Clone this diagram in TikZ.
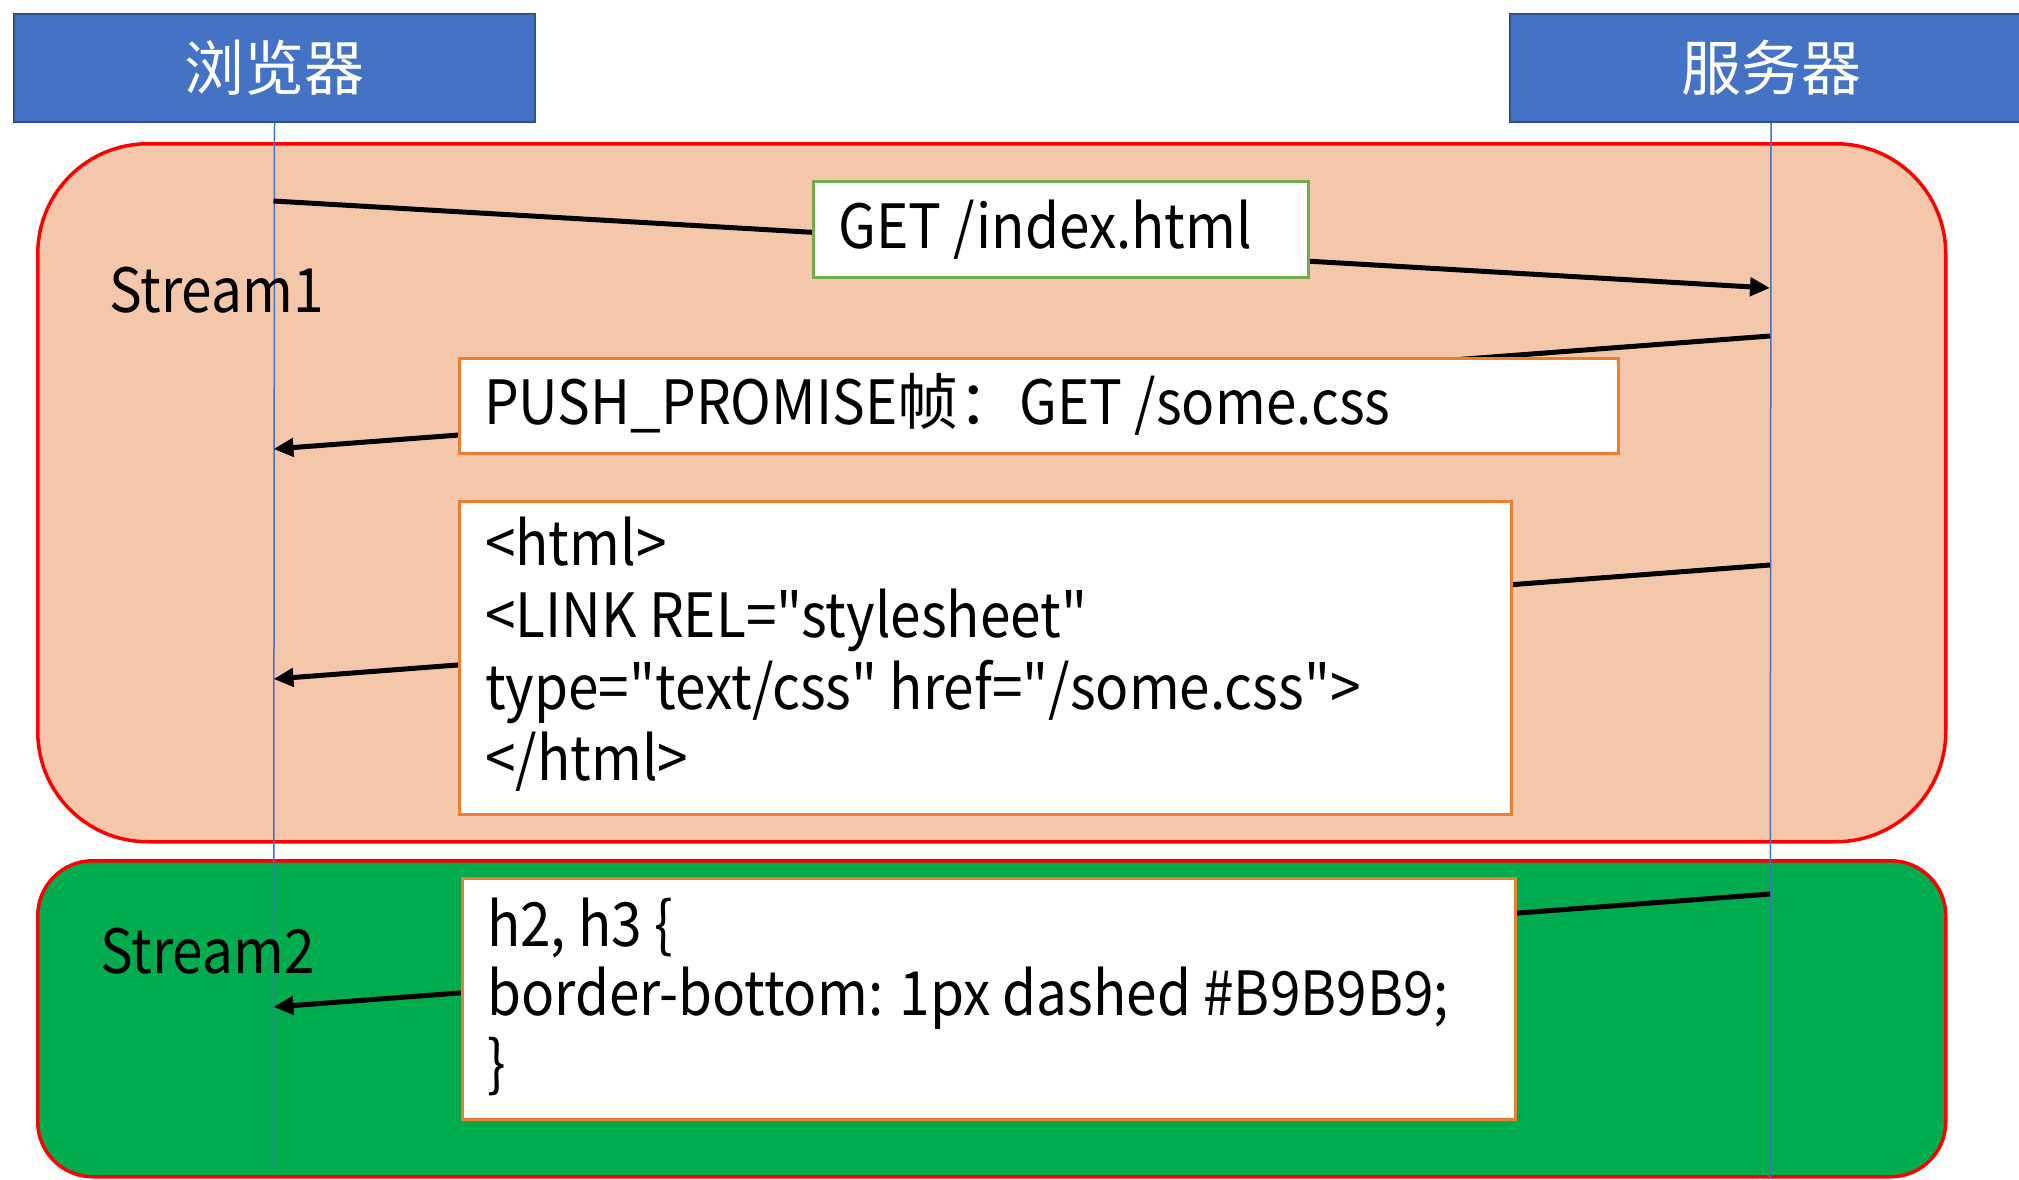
\documentclass[tikz,border=0pt]{standalone}
\usepackage{fontspec}
\setmainfont{Noto Sans CJK SC}
\newfontfamily\cjk{Noto Sans CJK SC}
\newfontfamily\lat{Noto Sans CJK SC}[FakeStretch=0.9]
\usetikzlibrary{arrows.meta}
\definecolor{headblue}{HTML}{4472C4}
\definecolor{headborder}{HTML}{2F528F}
\definecolor{streamfill}{HTML}{F5C7AA}
\definecolor{streamgreen}{HTML}{00AC4E}
\definecolor{getborder}{HTML}{70AD47}
\definecolor{boxorange}{HTML}{ED7D31}
\definecolor{lifeblue}{HTML}{4472C4}
\begin{document}
\begin{tikzpicture}[x=1pt,y=-1pt,
  hdr/.style={draw=headborder, line width=2pt, fill=headblue, text=white,
    minimum height=108pt, anchor=north west, inner sep=0pt,
    font=\cjk\fontsize{60}{60}\selectfont},
  streambox/.style={draw=red, line width=3.5pt, anchor=north west, inner sep=0pt},
  msgbox/.style={draw=boxorange, line width=3pt, fill=white, anchor=north west, inner sep=0pt},
  txt/.style={anchor=base west, inner sep=0pt, font=\lat\fontsize{61}{72}\selectfont},
  life/.style={draw=lifeblue, line width=1.5pt},
  msg/.style={draw=black, line width=5pt},
  msgarrow/.style={msg, -{Triangle[length=20pt,width=18pt]}}]
\useasboundingbox (0,0) rectangle (2019,1179);
\clip (0,0) rectangle (2019,1179);
\fill[white] (0,0) rectangle (2019,1179);

% stream areas
\node[streambox, fill=streamfill, rounded corners=110pt,
  minimum width=1908pt, minimum height=698pt] (s1) at (36,142) {};
\node[streambox, fill=streamgreen, rounded corners=55pt,
  minimum width=1908pt, minimum height=316pt] (s2) at (36,859) {};

% headers
\node[hdr, minimum width=521pt] (browser) at (13,13) {浏览器};
\node[hdr, minimum width=522pt] (server) at (1509,13) {服务器};

% lifelines
\coordinate (bend) at (273.5,1168);
\coordinate (send) at (1770,1179);
\draw[life] (browser.south) -- (bend);
\draw[life] (server.south) -- (send);

% message end points on lifelines
\coordinate (b1) at (273.5,201);
\coordinate (s1e) at (1770,288);
\coordinate (s2s) at (1770,336);
\coordinate (b2) at (273.5,449);
\coordinate (s3s) at (1770,565);
\coordinate (b3) at (273.5,679);
\coordinate (s4s) at (1770,894);
\coordinate (b4) at (273.5,1007);

\draw[msgarrow] (b1) -- (s1e);
\draw[msgarrow] (s2s) -- (b2);
\draw[msgarrow] (s3s) -- (b3);
\draw[msgarrow] (s4s) -- (b4);

% message boxes
\node[msgbox, draw=getborder, minimum width=495pt, minimum height=96pt] (get) at (812,180) {};
\node[txt] (gettxt) at (838,248) {GET /index.html};

\node[msgbox, minimum width=1159pt, minimum height=95pt] (push) at (458,357) {};
\node[txt] (pushtxt) at (484,424) {PUSH\_PROMISE{\cjk 帧：}GET /some.css};

\node[msgbox, minimum width=1052pt, minimum height=313pt] (html) at (458,500) {};
\node[txt] (h1) at (485,565) {<html>};
\node[txt] (h2) at (485,637) {<LINK REL="stylesheet"};
\node[txt] (h3) at (485,709) {type="text/css" href="/some.css">};
\node[txt] (h4) at (485,780) {</html>};

\node[msgbox, minimum width=1053pt, minimum height=241pt] (css) at (461,877) {};
\node[txt] (c1) at (487,946) {h2, h3 \{};
\node[txt] (c2) at (487,1015) {border-bottom: 1px dashed \#B9B9B9;};
\node[txt] (c3) at (487,1085) {\}};

% stream labels
\node[txt] (st1) at (109,312) {Stream1};
\node[txt] (st2) at (100,973) {Stream2};
\end{tikzpicture}
\end{document}
